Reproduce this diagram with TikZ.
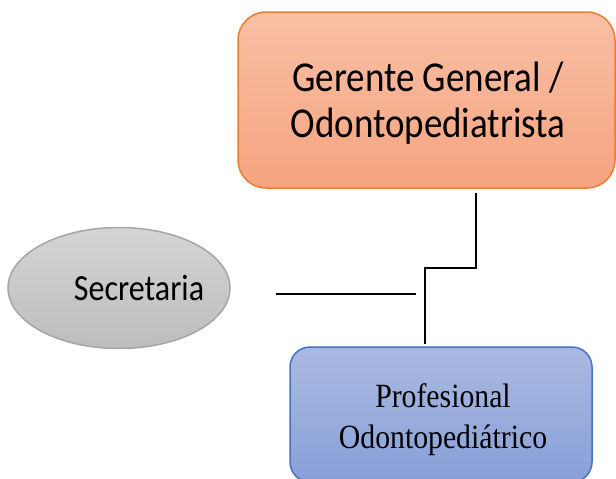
\documentclass[tikz,border=0pt]{standalone}
\usepackage{fontspec}
\setmainfont{Carlito}
\newfontfamily\serifb{Liberation Serif}
\usetikzlibrary{shapes.geometric}
\definecolor{orBorder}{HTML}{ED7D31}
\definecolor{orTop}{HTML}{F8BFA5}
\definecolor{orBot}{HTML}{F5A47F}
\definecolor{grBorder}{HTML}{A5A5A5}
\definecolor{grTop}{HTML}{D4D4D4}
\definecolor{grBot}{HTML}{BDBDBD}
\definecolor{blBorder}{HTML}{4472C4}
\definecolor{blTop}{HTML}{AAB9E1}
\definecolor{blBot}{HTML}{88A0D8}
\tikzset{
  conn/.style={draw=black, line width=1.5pt},
  topbox/.style={rounded corners=28pt, draw=orBorder, line width=1.5pt, top color=orTop, bottom color=orBot},
  secbox/.style={ellipse, draw=grBorder, line width=1.5pt, top color=grTop, bottom color=grBot, minimum width=222pt, minimum height=121pt, inner sep=0pt},
  profbox/.style={rounded corners=20pt, draw=blBorder, line width=1.5pt, top color=blTop, bottom color=blBot},
  sanslbl/.style={inner sep=0pt, anchor=base, font=\fontsize{37}{40}\selectfont},
  seriflbl/.style={inner sep=0pt, anchor=base, font=\serifb\fontsize{35}{40}\selectfont},
}
\newcommand{\tallS}[1]{\scalebox{1}[1.15]{#1}}
\newcommand{\narrowT}[1]{\scalebox{0.85}[0.97]{#1}}
\begin{document}
\begin{tikzpicture}[x=1pt,y=-1pt]
\useasboundingbox (0,0) rectangle (616,479);
\path[topbox] (238,12) rectangle (615,188);
\node[sanslbl] (gg1) at (428,91) {\tallS{Gerente General /}};
\node[sanslbl] (gg2) at (428,137) {\tallS{Odontopediatrista}};
\coordinate (ggb) at (476,193);
\node[secbox] (sec) at (119,288) {};
\node[sanslbl, font=\fontsize{32}{38}\selectfont] (sect) at (139,300) {\tallS{Secretaria}};
\path[profbox] (290,347) rectangle (592,482);
\node[seriflbl] (prof1) at (443,407) {\narrowT{Profesional}};
\node[seriflbl] (prof2) at (443,448) {\narrowT{Odontopediátrico}};
\coordinate (pt) at (425,344);
\coordinate (j1) at (476,268);
\coordinate (j2) at (425,268);
\coordinate (s1) at (276,294);
\coordinate (s2) at (416,294);
\draw[conn] (ggb) -- (j1) -- (j2) -- (pt);
\draw[conn] (s1) -- (s2);
\end{tikzpicture}
\end{document}
